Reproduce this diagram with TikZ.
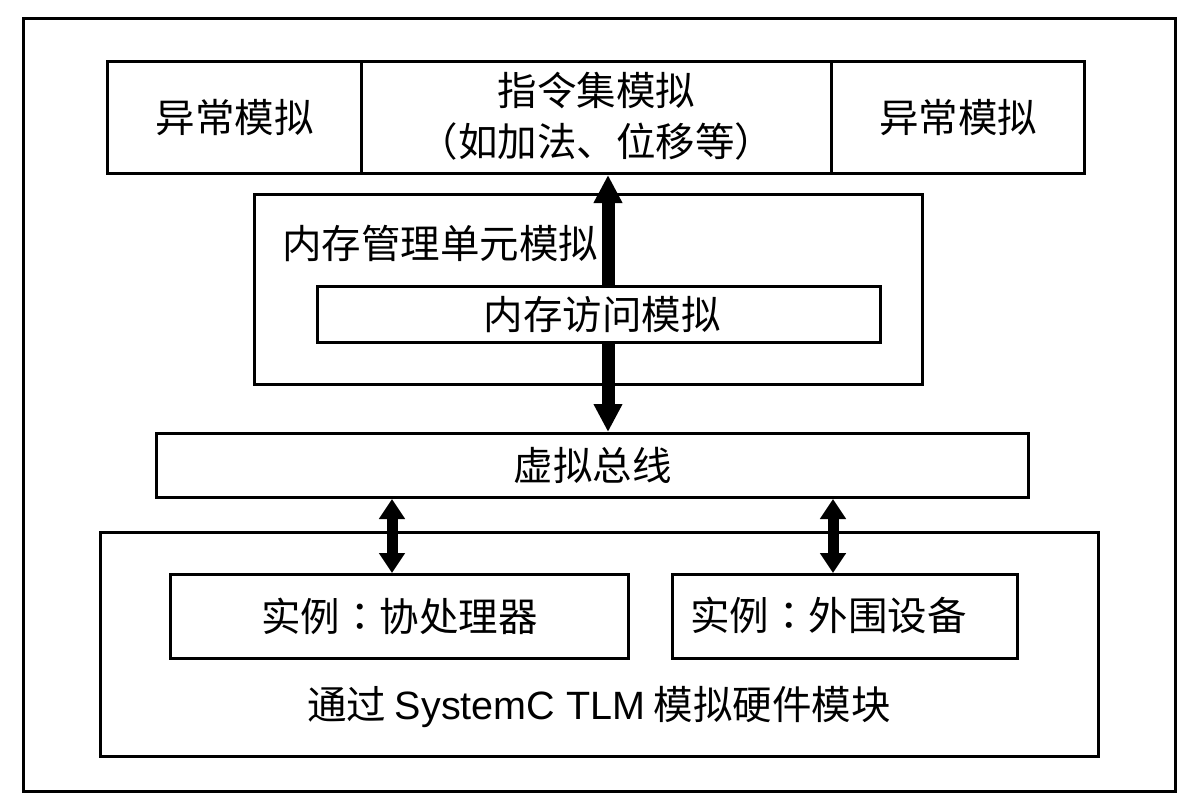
\documentclass[tikz,border=0pt]{standalone}
\usepackage{fontspec}
\setmainfont{Liberation Sans}
\newfontfamily\cjk{Noto Sans CJK SC}
\newfontfamily\cjktc{Noto Sans CJK TC}
\usetikzlibrary{arrows.meta}
\begin{document}
\begin{tikzpicture}[x=1pt,y=-1pt,
  box/.style={draw,line width=3pt,rectangle,inner sep=0pt,anchor=north west,fill=white},
  lbl/.style={font=\fontsize{39.5}{51}\selectfont\cjk,inner sep=0pt,align=center},
  bigarrow/.style={line width=13pt,{Triangle[width=27pt,length=28pt]}-{Triangle[width=27pt,length=28pt]}},
  smallarrow/.style={line width=11pt,{Triangle[width=25pt,length=20pt]}-{Triangle[width=25pt,length=20pt]}}]
\useasboundingbox (0,0) rectangle (1182,797);
\node[box,minimum width=1152pt,minimum height=773pt,fill=none] (frame) at (22,17) {};
% top row
\node[box,minimum width=254pt,minimum height=112pt] (exl) at (106,60) {};
\node[box,minimum width=470pt,minimum height=112pt] (isa) at (360,60) {};
\node[box,minimum width=253pt,minimum height=112pt] (exr) at (830,60) {};
\node[lbl] (exlt) at (exl.center) {异常模拟};
\node[lbl] (exrt) at (exr.center) {异常模拟};
\node[lbl] (isat) at ([yshift=1pt]isa.center) {指令集模拟\\（如加法、位移等）};
% memory management unit
\node[box,minimum width=668pt,minimum height=190pt] (mmu) at (253,193) {};
\node[lbl,anchor=west] (mmut) at (282,243) {内存管理单元模拟};
% bus
\node[box,minimum width=872pt,minimum height=64pt] (bus) at (155,432) {};
\node[lbl] (bust) at (bus.center) {虚拟总线};
% big arrow (behind the memory access box)
\coordinate (ax) at (608,0);
\draw[bigarrow] (ax |- isa.south) -- (ax |- bus.north);
% memory access box
\node[box,minimum width=563pt,minimum height=56pt] (mem) at (316,285) {};
\node[lbl] (memt) at ([xshift=3pt]mem.center) {内存访问模拟};
% hardware
\node[box,minimum width=998pt,minimum height=224pt] (hw) at (99,531) {};
\node[box,minimum width=458pt,minimum height=84pt] (cop) at (169,573) {};
\node[box,minimum width=345pt,minimum height=84pt] (per) at (671,573) {};
\node[lbl] (copt) at (cop.center) {实例{\cjktc ：}协处理器};
\node[lbl,anchor=west] (pert) at (690,615) {实例{\cjktc ：}外围设备};
\node[lbl] (hwt) at (599,707) {通过 {\fontspec{Liberation Sans}SystemC TLM} 模拟硬件模块};
% small arrows
\coordinate (bx) at (392,0);
\coordinate (cx) at (833,0);
\draw[smallarrow] (bx |- bus.south) -- (bx |- cop.north);
\draw[smallarrow] (cx |- bus.south) -- (cx |- per.north);
\end{tikzpicture}
\end{document}
